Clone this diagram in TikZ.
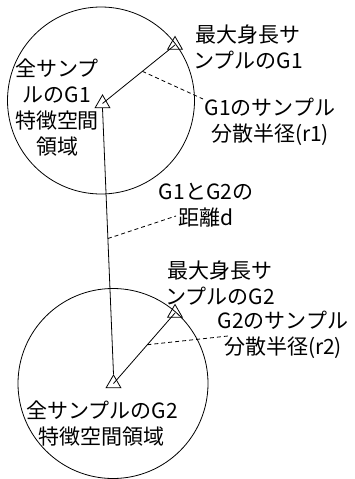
\documentclass[tikz,border=0pt]{standalone}
\usepackage{fontspec}
\setmainfont{Noto Sans CJK JP}
\usetikzlibrary{shapes.geometric}
\begin{document}
\begin{tikzpicture}[x=1pt,y=-1pt,
  every node/.style={font=\fontsize{21}{26}\selectfont, inner sep=0pt},
  ln/.style={line width=0.8pt, black},
  dsh/.style={line width=0.8pt, black, dash pattern=on 4pt off 3pt},
  region/.style={circle, draw, line width=0.8pt, inner sep=0pt},
  tri/.style={regular polygon, regular polygon sides=3, draw, line width=0.8pt, minimum size=17pt, inner sep=0pt},
  lbl/.style={align=center}]
\useasboundingbox (0,0) rectangle (355,479);
% regions
\node[region, minimum size=187pt] (C1) at (101,100.5) {};
\node[region, minimum size=190pt] (C2) at (113,383.5) {};
% triangles
\node[tri] (T1top) at (175,45) {};
\node[tri] (T1c) at (102.5,103.5) {};
\node[tri] (T2top) at (175,313) {};
\node[tri] (T2c) at (113.5,383.5) {};
% labels
\node[lbl] (L1) at (248,47.5) {最大身長サ\\ンプルのG1};
\node[lbl] (L2) at (57,108) {全サンプ\\ルのG1\\特徴空間\\領域};
\node[lbl] (L3) at (270,122) {G1のサンプル\\分散半径(r1)};
\node[lbl] (L4) at (206,205.5) {G1とG2の\\距離d};
\node[lbl] (L5) at (220,283.5) {最大身長サ\\ンプルのG2};
\node[lbl] (L6) at (283,334.5) {G2のサンプル\\分散半径(r2)};
\node[lbl] (L7) at (102,423.5) {全サンプルのG2\\特徴空間領域};
% dashed ends
\coordinate (r1end) at (203,99);
\coordinate (dend) at (176,216);
\coordinate (r2end) at (228,336);
% connectors
\draw[ln] (T1top.center) -- coordinate[pos=0.45] (m1) (T1c.center);
\draw[ln] (T1c.side 2) -- coordinate[pos=0.49] (md) (T2c.corner 1);
\draw[ln] (T2top.center) -- coordinate[pos=0.45] (m2) (T2c.center);
\draw[dsh] (m1) -- (r1end);
\draw[dsh] (md) -- (dend);
\draw[dsh] (m2) -- (r2end);
\end{tikzpicture}
\end{document}
